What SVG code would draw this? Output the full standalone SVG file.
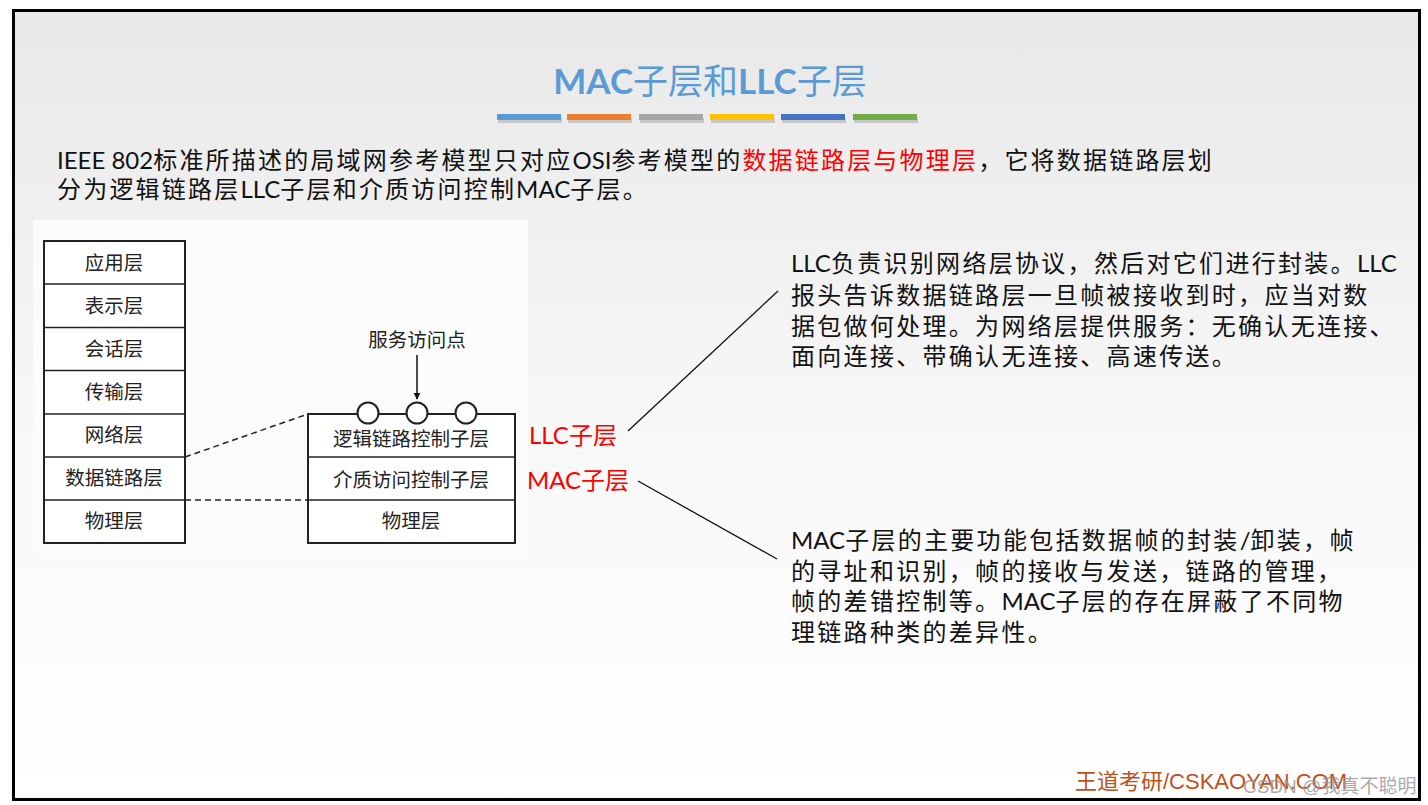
<svg xmlns="http://www.w3.org/2000/svg" width="1428" height="805" viewBox="0 0 1428 805">
<defs>
<linearGradient id="bg" x1="0" y1="0" x2="0" y2="1">
<stop offset="0" stop-color="#e8e8e8"/>
<stop offset="0.55" stop-color="#f8f8f8"/>
<stop offset="1" stop-color="#ffffff"/>
</linearGradient>
<marker id="arr" viewBox="0 0 10 10" refX="9" refY="5" markerWidth="7" markerHeight="10" markerUnits="userSpaceOnUse" orient="auto">
<path d="M0,0 L10,5 L0,10 z" fill="#111"/>
</marker>
</defs>
<style>
.cjk{font-family:"Lato","Noto Sans CJK SC",sans-serif;}
.body{font-family:"Lato","Noto Sans CJK SC",sans-serif;font-size:24px;fill:#111;}
.para{letter-spacing:2.3px;}
.lat{letter-spacing:0px;}
.red{fill:#ff0000;}
.box{fill:#ffffff;stroke:#222;stroke-width:2;}
.div{stroke:#222;stroke-width:1.5;}
.lbl{font-family:"Noto Sans CJK SC",sans-serif;font-size:19.5px;fill:#222;text-anchor:middle;}
.dash{stroke:#222;stroke-width:1.5;stroke-dasharray:6,4;fill:none;}
.conn{stroke:#111;stroke-width:1.3;fill:none;}
</style>
<rect x="0" y="0" width="1428" height="805" fill="#ffffff"/>
<rect x="13.5" y="10.5" width="1406" height="789" fill="url(#bg)" stroke="#000" stroke-width="3"/>

<g id="title">
<text x="710" y="94" text-anchor="middle" class="cjk" font-size="35" fill="#5b9bd5"><tspan font-weight="bold">MAC</tspan>子层和<tspan font-weight="bold">LLC</tspan>子层</text>
<g fill="#b0b0b0" opacity="0.6">
<rect x="498" y="118" width="64" height="5"/><rect x="568" y="118" width="64" height="5"/><rect x="640" y="118" width="64" height="5"/><rect x="711" y="118" width="64" height="5"/><rect x="782" y="118" width="64" height="5"/><rect x="854" y="118" width="64" height="5"/>
</g>
<rect x="497" y="114" width="64" height="6" fill="#5b9bd5"/>
<rect x="567" y="114" width="64" height="6" fill="#ed7d31"/>
<rect x="639" y="114" width="64" height="6" fill="#a5a5a5"/>
<rect x="710" y="114" width="64" height="6" fill="#ffc000"/>
<rect x="781" y="114" width="64" height="6" fill="#4472c4"/>
<rect x="853" y="114" width="64" height="6" fill="#70ad47"/>
</g>

<g id="intro" class="body" letter-spacing="2.2">
<text x="57" y="169"><tspan class="lat">IEEE 802</tspan>标准所描述的局域网参考模型只对应<tspan class="lat">OSI</tspan>参考模型的<tspan class="red">数据链路层与物理层</tspan>，它将数据链路层划</text>
<text x="57" y="198">分为逻辑链路层<tspan class="lat">LLC</tspan>子层和介质访问控制<tspan class="lat">MAC</tspan>子层。</text>
</g>

<rect x="33" y="220" width="495" height="333" fill="#fbfbfb"/>

<g id="osi-stack">
<rect class="box" x="44" y="241" width="141" height="302"/>
<line class="div" x1="44" y1="284" x2="185" y2="284"/>
<line class="div" x1="44" y1="327.5" x2="185" y2="327.5"/>
<line class="div" x1="44" y1="370.5" x2="185" y2="370.5"/>
<line class="div" x1="44" y1="414" x2="185" y2="414"/>
<line class="div" x1="44" y1="457" x2="185" y2="457"/>
<line class="div" x1="44" y1="500" x2="185" y2="500"/>
<text class="lbl" x="114" y="270">应用层</text>
<text class="lbl" x="114" y="313">表示层</text>
<text class="lbl" x="114" y="356">会话层</text>
<text class="lbl" x="114" y="399">传输层</text>
<text class="lbl" x="114" y="442">网络层</text>
<text class="lbl" x="114" y="485">数据链路层</text>
<text class="lbl" x="114" y="528">物理层</text>
</g>

<g id="lan-stack">
<rect class="box" x="308" y="414" width="207" height="129"/>
<line class="div" x1="308" y1="457" x2="515" y2="457"/>
<line class="div" x1="308" y1="500" x2="515" y2="500"/>
<text class="lbl" x="411" y="446">逻辑链路控制子层</text>
<text class="lbl" x="411" y="487">介质访问控制子层</text>
<text class="lbl" x="411" y="528">物理层</text>
<circle cx="368" cy="413" r="10.5" fill="#fff" stroke="#222" stroke-width="2"/>
<circle cx="417" cy="413" r="10.5" fill="#fff" stroke="#222" stroke-width="2"/>
<circle cx="466" cy="413" r="10.5" fill="#fff" stroke="#222" stroke-width="2"/>
</g>

<g id="sap">
<text class="lbl" x="417" y="347">服务访问点</text>
</g>

<g id="labels" class="body">
<text class="red" x="529" y="444">LLC子层</text>
<text class="red" x="527" y="489">MAC子层</text>
</g>

<g id="llc-desc" class="body para">
<text x="791" y="272"><tspan class="lat">LLC</tspan>负责识别网络层协议，然后对它们进行封装。<tspan class="lat">LLC</tspan></text>
<text x="791" y="304">报头告诉数据链路层一旦帧被接收到时，应当对数</text>
<text x="791" y="335">据包做何处理。为网络层提供服务：无确认无连接、</text>
<text x="791" y="365">面向连接、带确认无连接、高速传送。</text>
</g>

<g id="mac-desc" class="body para">
<text x="791" y="549"><tspan class="lat">MAC</tspan>子层的主要功能包括数据帧的封装<tspan class="lat">/</tspan>卸装，帧</text>
<text x="791" y="580">的寻址和识别，帧的接收与发送，链路的管理，</text>
<text x="791" y="610">帧的差错控制等。<tspan class="lat">MAC</tspan>子层的存在屏蔽了不同物</text>
<text x="791" y="641">理链路种类的差异性。</text>
</g>

<g id="connectors">
<line class="dash" x1="185" y1="457" x2="308" y2="414"/>
<line class="dash" x1="185" y1="500" x2="308" y2="500"/>
<line x1="417" y1="355" x2="417" y2="399" stroke="#111" stroke-width="1.5" marker-end="url(#arr)"/>
<line class="conn" x1="628" y1="431" x2="778" y2="291"/>
<line class="conn" x1="638" y1="481" x2="777" y2="559"/>
</g>

<g id="footer">
<text x="1075" y="789" font-family="'Liberation Sans','Noto Sans CJK SC',sans-serif" font-size="22" fill="#c0501a">王道考研/CSKAOYAN.COM</text>
<text x="1243" y="793" font-family="'Liberation Sans','Noto Sans CJK SC',sans-serif" font-size="19" fill="#9a9a9a" fill-opacity="0.85">CSDN @我真不聪明</text>
</g>
</svg>
